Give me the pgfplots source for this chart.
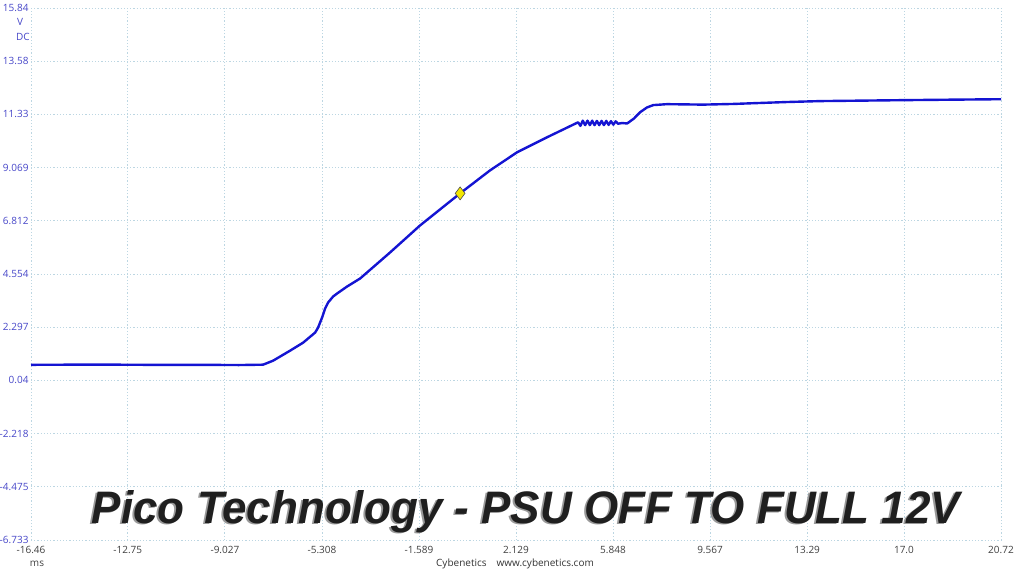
\documentclass[border=0pt]{standalone}
\usepackage{fontspec}
\setmainfont{Open Sans}
\newfontfamily\titlefont{Liberation Sans}
\usepackage{pgfplots}
\pgfplotsset{compat=1.18}
\definecolor{TraceBlue}{HTML}{1414D2}
\definecolor{LabBlue}{HTML}{4646C8}
\definecolor{GridC}{HTML}{BCD6E2}
\definecolor{MarkYel}{HTML}{F2E600}
\newcommand{\titletext}{\titlefont\bfseries\itshape Pico Technology - PSU OFF TO FULL 12V}

\begin{document}
\begin{tikzpicture}[x=1pt,y=1pt]
\path[use as bounding box] (0,0) rectangle (1015,571);
\begin{axis}[
    at={(31pt,31pt)}, anchor=south west,
    scale only axis,
    width=970pt, height=532pt,
    xmin=-16.46, xmax=20.72,
    ymin=-6.733, ymax=15.84,
    xtick={-16.46,-12.75,-9.027,-5.308,-1.589,2.129,5.848,9.567,13.29,17.0,20.72},
    xticklabels={-16.46,-12.75,-9.027,-5.308,-1.589,2.129,5.848,9.567,13.29,17.0,20.72},
    ytick={-6.733,-4.475,-2.218,0.04,2.297,4.554,6.812,9.069,11.33,13.58,15.84},
    yticklabels={-6.733,-4.475,-2.218,0.04,2.297,4.554,6.812,9.069,11.33,13.58,15.84},
    axis line style={draw=none},
    major tick length=0pt,
    grid=major,
    major grid style={color=GridC, dash pattern=on 1.2pt off 2pt, line width=0.9pt},
    xticklabel style={font=\fontsize{10}{11}\selectfont, text=black!75, yshift=-3pt},
    yticklabel style={font=\fontsize{10}{11}\selectfont, text=LabBlue, xshift=1pt},
    clip=false,
]
\addplot[TraceBlue, line width=2.4pt, line join=round] coordinates {
(-16.46,0.70) (-14.0,0.71) (-12.0,0.70) (-10.0,0.70) (-8.5,0.69) (-7.565,0.706)
(-7.18,0.876) (-6.53,1.30) (-6.03,1.64) (-5.571,2.067) (-5.456,2.279)
(-5.303,2.704) (-5.188,3.087) (-5.073,3.342) (-4.882,3.597) (-4.728,3.725)
(-4.345,4.022) (-3.846,4.362) (-2.696,5.468) (-1.546,6.615) (-0.012,7.976)
(1.138,8.953) (2.173,9.719) (3.323,10.356) (4.51,10.99)
(4.60,10.84) (4.69,11.06) (4.78,10.87) (4.87,11.06) (4.96,10.87) (5.05,11.06)
(5.14,10.87) (5.23,11.05) (5.32,10.87) (5.41,11.05) (5.50,10.87) (5.59,11.05)
(5.68,10.88) (5.77,11.04) (5.86,10.89) (5.95,11.03) (6.04,10.93) (6.20,10.96)
(6.39,10.94) (6.65,11.15) (6.89,11.42) (7.15,11.62) (7.39,11.72) (7.92,11.76)
(9.30,11.74) (10.5,11.77) (11.22,11.80) (12.5,11.85) (13.79,11.89) (15.4,11.91)
(16.97,11.93) (18.8,11.95) (20.72,11.97)
};
\addplot[only marks, mark=diamond*, mark size=6.5pt, mark options={fill=MarkYel, draw=black!70, line width=0.6pt}] coordinates {(-0.012,7.976)};
\end{axis}
\node[text=LabBlue, font=\fontsize{10}{11}\selectfont] at (20,549) {V};
\node[text=LabBlue, font=\fontsize{10}{11}\selectfont] at (23,534) {DC};
\node[text=black!75, font=\fontsize{10}{11}\selectfont] at (37,7) {ms};
\node[text=black!80, font=\fontsize{10}{11}\selectfont] at (515,7) {Cybenetics\quad www.cybenetics.com};
\node[anchor=base, inner sep=0pt, text=black!40] at (524,46.5) {\resizebox{868pt}{33pt}{\titletext}};
\node[anchor=base, inner sep=0pt, text=black!88] at (526,48) {\resizebox{868pt}{33pt}{\titletext}};
\end{tikzpicture}
\end{document}
